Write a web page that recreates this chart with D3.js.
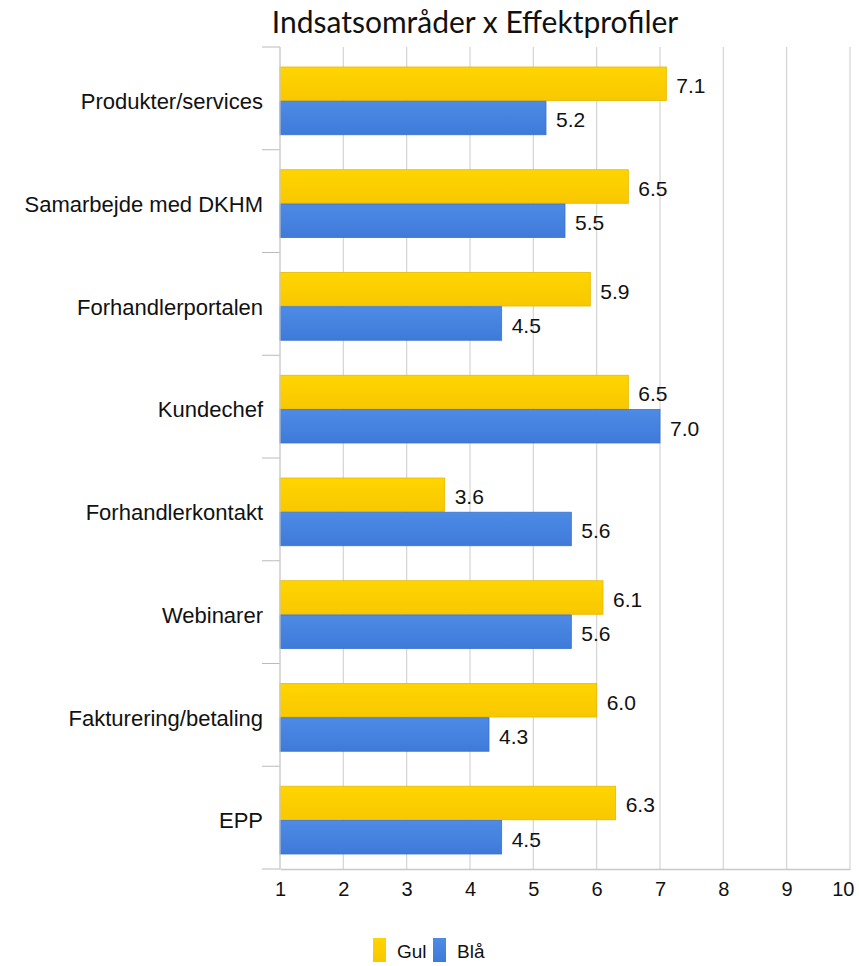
<!DOCTYPE html>
<html>
<head>
<meta charset="utf-8">
<script src="https://cdn.jsdelivr.net/npm/d3@7"></script>
<style>
  body { margin: 0; background: #fff; }
  svg text { font-family: "Liberation Sans", Arial, sans-serif; }
</style>
</head>
<body>
<div id="viz"></div>
<script>
var categories = ["Produkter/services", "Samarbejde med DKHM", "Forhandlerportalen", "Kundechef",
                  "Forhandlerkontakt", "Webinarer", "Fakturering/betaling", "EPP"];
var gul = [7.1, 6.5, 5.9, 6.5, 3.6, 6.1, 6.0, 6.3];
var blaa = [5.2, 5.5, 4.5, 7.0, 5.6, 5.6, 4.3, 4.5];
var seriesNames = ["Gul", "Blå"];
var xTicks = [1, 2, 3, 4, 5, 6, 7, 8, 9, 10];

var W = 859, H = 966;
var margin = {top: 47, right: 9, bottom: 97, left: 280},
    width = W - margin.left - margin.right,
    height = H - margin.top - margin.bottom;

var svg = d3.select("#viz").append("svg")
    .attr("width", W)
    .attr("height", H);

var defs = svg.append("defs");
function grad(id, c1, c2) {
  var g = defs.append("linearGradient").attr("id", id)
      .attr("x1", 0).attr("y1", 0).attr("x2", 0).attr("y2", 1);
  g.append("stop").attr("offset", "0%").attr("stop-color", c1);
  g.append("stop").attr("offset", "100%").attr("stop-color", c2);
}
grad("gGul", "#ffd500", "#f8c800");
grad("gBla", "#4d8be6", "#3f7ad9");

svg.append("text")
    .attr("x", 475).attr("y", 33)
    .attr("text-anchor", "middle")
    .style("font-family", "Lato, 'Open Sans', sans-serif")
    .style("font-size", "30px")
    .attr("fill", "#111")
    .text("Indsatsområder x Effektprofiler");

var x = d3.scaleLinear().domain([1, 10]).range([0, width]);
var y = d3.scaleBand().domain(categories).range([0, height]);
var inner = d3.scaleBand().domain(seriesNames).range([20, y.bandwidth() - 15]).paddingInner(0.02);

var g = svg.append("g").attr("transform", "translate(" + margin.left + "," + margin.top + ")");

// vertical grid
g.selectAll("line.grid").data(xTicks).enter().append("line")
    .attr("class", "grid")
    .attr("x1", function(d) { return x(d); })
    .attr("x2", function(d) { return x(d); })
    .attr("y1", 0).attr("y2", height)
    .attr("stroke", "#d4d4d4").attr("stroke-width", 1.2);

// category separators on left
var seps = categories.map(function(c) { return y(c); }).concat([height]);
g.selectAll("line.sep").data(seps).enter().append("line")
    .attr("x1", -18).attr("x2", 0)
    .attr("y1", function(d) { return d; }).attr("y2", function(d) { return d; })
    .attr("stroke", "#bbb");

var series = [
  {name: "Gul", values: gul, fill: "url(#gGul)", stroke: "#e6b800"},
  {name: "Blå", values: blaa, fill: "url(#gBla)", stroke: "#3a72cc"}
];

series.forEach(function(s) {
  g.selectAll(null).data(s.values).enter().append("rect")
      .attr("x", 0)
      .attr("y", function(d, i) { return y(categories[i]) + inner(s.name); })
      .attr("width", function(d) { return x(d); })
      .attr("height", inner.bandwidth())
      .attr("fill", s.fill)
      .attr("stroke", s.stroke).attr("stroke-width", 0.8);
  g.selectAll(null).data(s.values).enter().append("text")
      .attr("x", function(d) { return x(d) + 10; })
      .attr("y", function(d, i) { return y(categories[i]) + inner(s.name) + inner.bandwidth() / 2 + 2; })
      .attr("dy", "0.35em")
      .style("font-size", "21px")
      .attr("fill", "#111")
      .text(function(d) { return d.toFixed(1); });
});

// category labels
g.selectAll("text.cat").data(categories).enter().append("text")
    .attr("class", "cat")
    .attr("x", -17)
    .attr("y", function(d) { return y(d) + y.bandwidth() / 2 + 3; })
    .attr("dy", "0.35em")
    .attr("text-anchor", "end")
    .style("font-size", "22px")
    .attr("fill", "#111")
    .text(function(d) { return d; });

// left axis line
g.append("line").attr("x1", 0).attr("x2", 0).attr("y1", 0).attr("y2", height)
    .attr("stroke", "#cfcfcf");

// bottom axis
var xAxis = g.append("g")
    .attr("transform", "translate(0," + height + ")")
    .call(d3.axisBottom(x).tickValues(xTicks).tickSize(0).tickPadding(13).tickFormat(d3.format("d")));
xAxis.select(".domain").attr("stroke", "#c8c8c8").attr("stroke-width", 1.5);
xAxis.selectAll("text")
    .style("font-family", "'Liberation Sans', Arial, sans-serif")
    .style("font-size", "20px")
    .attr("fill", "#111");
// last label sits just inside the right edge
xAxis.selectAll(".tick").filter(function(d) { return d === 10; }).select("text")
    .attr("text-anchor", "end").attr("x", 4);

// legend
var legend = svg.append("g").attr("transform", "translate(373,938)");
var lx = [0, 60];
series.forEach(function(s, i) {
  legend.append("rect")
      .attr("x", lx[i]).attr("y", 0)
      .attr("width", 13).attr("height", 24)
      .attr("fill", s.fill);
  legend.append("text")
      .attr("x", lx[i] + 24).attr("y", 13)
      .attr("dy", "0.35em")
      .style("font-size", "19px")
      .attr("fill", "#111")
      .text(s.name);
});
</script>
</body>
</html>
